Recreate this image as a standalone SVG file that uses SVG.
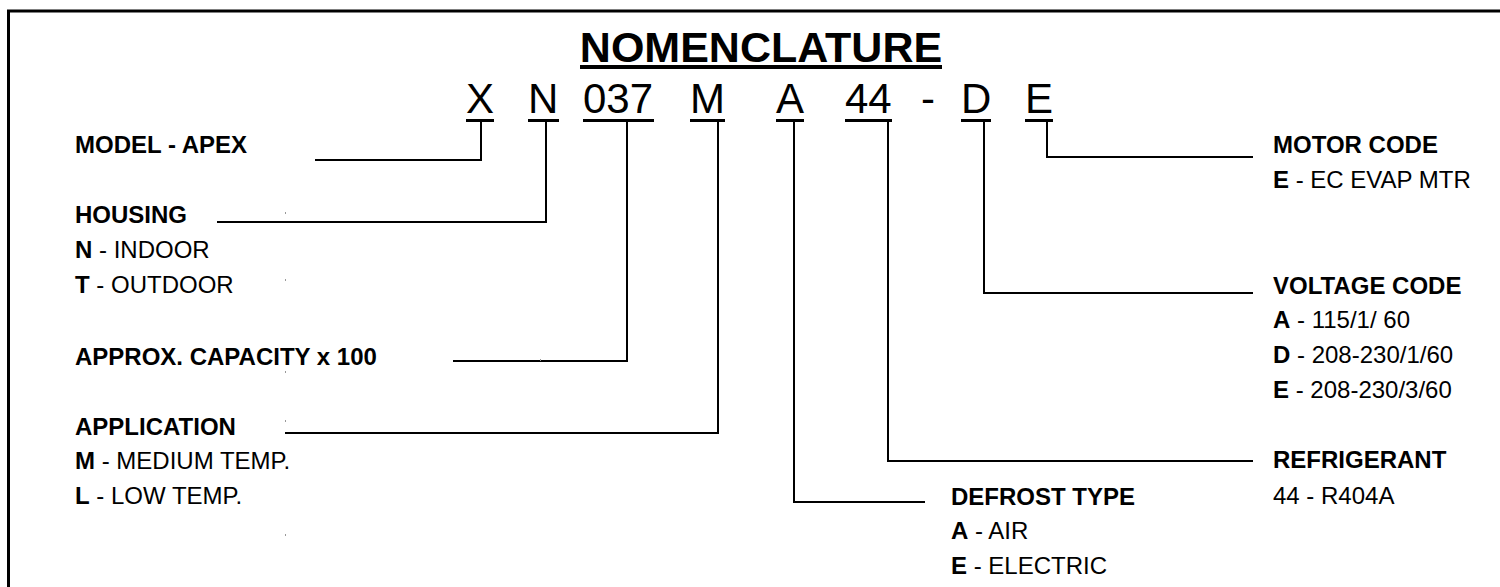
<svg xmlns="http://www.w3.org/2000/svg" width="1500" height="587" viewBox="0 0 1500 587">
<style>
.t{font-family:"Liberation Sans",Arial,sans-serif;fill:#000}
.h{font-size:24px;font-weight:bold}
.d{font-size:24px}
.b{font-weight:bold}
.code{font-size:42px}
.title{font-size:43px;font-weight:bold}
.ln{fill:none;stroke:#000;stroke-width:2}
</style>
<rect width="1500" height="587" fill="#fff"/>
<g id="frame">
<line x1="7" y1="11" x2="1500" y2="11" stroke="#000" stroke-width="3"/>
<line x1="8.5" y1="10" x2="8.5" y2="587" stroke="#000" stroke-width="3"/>
</g>
<g id="title">
<text class="t title" x="761" y="62" text-anchor="middle">NOMENCLATURE</text>
<rect x="580" y="65" width="362" height="4" fill="#000"/>
</g>
<g id="code">
<text class="t code" x="466" y="113">X</text>
<text class="t code" x="528" y="113">N</text>
<text class="t code" x="583" y="113">037</text>
<text class="t code" x="690" y="113">M</text>
<text class="t code" x="776" y="113">A</text>
<text class="t code" x="845" y="113">44</text>
<text class="t code" x="921" y="113">-</text>
<text class="t code" x="961" y="113">D</text>
<text class="t code" x="1025" y="113">E</text>
<g fill="#000">
<rect x="466" y="119" width="28" height="3"/>
<rect x="528" y="119" width="31" height="3"/>
<rect x="583" y="119" width="71" height="3"/>
<rect x="690" y="119" width="35" height="3"/>
<rect x="776" y="119" width="28" height="3"/>
<rect x="845" y="119" width="47" height="3"/>
<rect x="961" y="119" width="30" height="3"/>
<rect x="1025" y="119" width="28" height="3"/>
</g>
</g>
<g id="connectors">
<path class="ln" d="M481,122 V160 H315"/>
<path class="ln" d="M546,122 V222 H217"/>
<path class="ln" d="M627,122 V361 H453"/>
<path class="ln" d="M718,122 V433 H285"/>
<path class="ln" d="M794,122 V502 H925"/>
<path class="ln" d="M888,122 V461 H1253"/>
<path class="ln" d="M984,122 V293 H1253"/>
<path class="ln" d="M1047,122 V157 H1253"/>
</g>
<g id="model">
<text class="t h" x="75" y="153">MODEL - APEX</text>
</g>
<g id="housing">
<text class="t h" x="75" y="223">HOUSING</text>
<text class="t d" x="75" y="258"><tspan class="b">N</tspan> - INDOOR</text>
<text class="t d" x="75" y="293"><tspan class="b">T</tspan> - OUTDOOR</text>
</g>
<g id="capacity">
<text class="t h" x="75" y="365">APPROX. CAPACITY x 100</text>
</g>
<g id="application">
<text class="t h" x="75" y="435">APPLICATION</text>
<text class="t d" x="75" y="469"><tspan class="b">M</tspan> - MEDIUM TEMP.</text>
<text class="t d" x="75" y="504"><tspan class="b">L</tspan> - LOW TEMP.</text>
</g>
<g id="defrost">
<text class="t h" x="951" y="505">DEFROST TYPE</text>
<text class="t d" x="951" y="539"><tspan class="b">A</tspan> - AIR</text>
<text class="t d" x="951" y="574"><tspan class="b">E</tspan> - ELECTRIC</text>
</g>
<g id="motor">
<text class="t h" x="1273" y="153">MOTOR CODE</text>
<text class="t d" x="1273" y="188"><tspan class="b">E</tspan> - EC EVAP MTR</text>
</g>
<g id="voltage">
<text class="t h" x="1273" y="294">VOLTAGE CODE</text>
<text class="t d" x="1273" y="328"><tspan class="b">A</tspan> - 115/1/ 60</text>
<text class="t d" x="1273" y="363"><tspan class="b">D</tspan> - 208-230/1/60</text>
<text class="t d" x="1273" y="398"><tspan class="b">E</tspan> - 208-230/3/60</text>
</g>
<g id="refrigerant">
<text class="t h" x="1273" y="468">REFRIGERANT</text>
<text class="t d" x="1273" y="504">44 - R404A</text>
</g>
<g id="specks" fill="#999">
<rect x="285" y="212" width="1" height="2"/>
<rect x="285" y="279" width="1" height="2"/>
<rect x="285" y="371" width="1" height="2"/>
<rect x="285" y="420" width="1" height="2"/>
<rect x="285" y="534" width="1" height="2"/>
<rect x="540" y="359" width="1" height="2"/>
</g>
</svg>
